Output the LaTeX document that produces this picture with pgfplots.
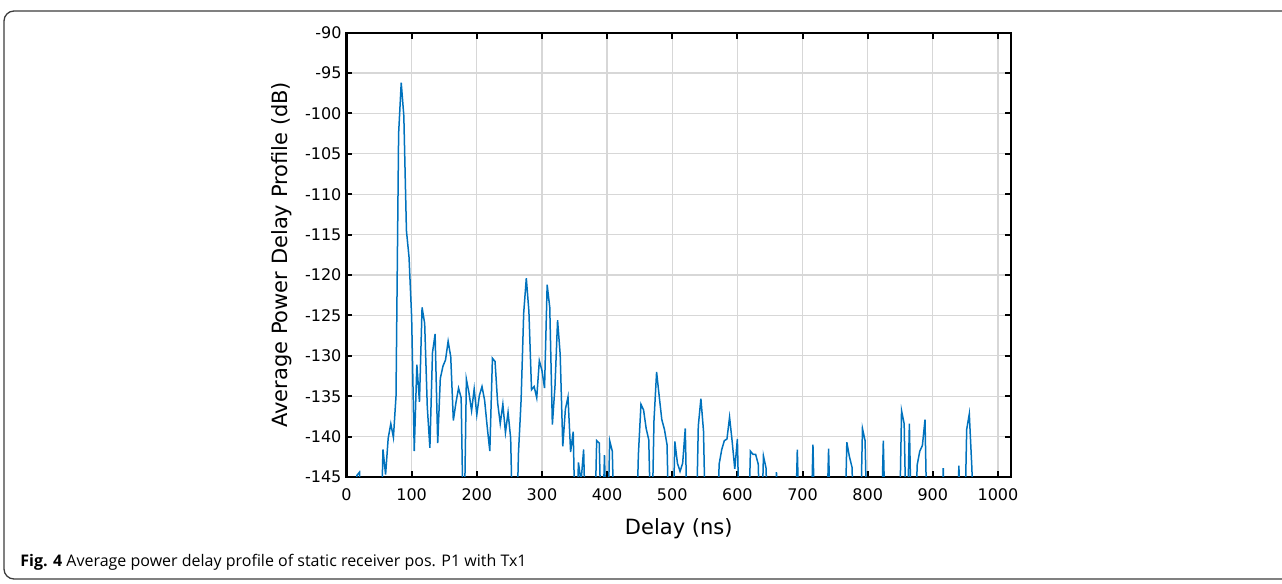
\documentclass[border=0pt]{standalone}
\usepackage{fontspec}
\setmainfont{DejaVu Sans}
\newfontfamily\capfont{Open Sans}
\usepackage{pgfplots}
\usepackage{pgfplotstable}
\pgfplotsset{compat=1.18}
\definecolor{mblue}{RGB}{0,114,189}
\definecolor{gridc}{RGB}{215,215,215}
\definecolor{framec}{RGB}{60,60,60}
\pgfplotstableread{
x y
0 -155
4 -155
8 -155
12 -155
16 -144.8
20 -144.4
24 -155
28 -155
32 -155
36 -155
40 -155
44 -155
48 -155
52 -155
56 -141.6
60 -144.7
64 -140.2
68 -138.4
72 -140.1
76 -135.0
80 -102.5
84 -96.2
88 -100.3
92 -114.5
96 -117.8
100 -125.2
104 -141.8
108 -131.1
112 -135.7
116 -124.0
120 -126.0
124 -136.3
128 -141.4
132 -129.6
136 -127.3
140 -140.8
144 -132.8
148 -131.3
152 -130.5
156 -128.2
160 -130.1
164 -138.0
168 -135.8
172 -134.0
176 -135.2
180 -155
184 -132.9
188 -134.6
192 -136.8
196 -134.1
200 -137.3
204 -134.9
208 -133.8
212 -135.5
216 -138.8
220 -141.8
224 -130.3
228 -130.7
232 -135.8
236 -138.4
240 -136.0
244 -139.5
248 -137.0
252 -140.2
256 -155
260 -155
264 -142.0
268 -135.5
272 -124.7
276 -120.4
280 -124.5
284 -134.2
288 -133.8
292 -135.2
296 -130.6
300 -131.8
304 -134.0
308 -121.2
312 -124.0
316 -138.5
320 -133.8
324 -125.6
328 -129.8
332 -141.2
336 -136.6
340 -135.1
344 -141.9
348 -139.4
352 -155
356 -143.2
360 -145.6
364 -141.6
368 -155
372 -155
376 -155
380 -155
384 -140.5
388 -140.8
392 -155
396 -142.3
400 -155
404 -140.5
408 -141.8
412 -155
416 -155
420 -155
424 -155
428 -155
432 -155
436 -155
440 -155
444 -155
448 -142.3
452 -136.0
456 -136.7
460 -139.0
464 -140.4
468 -155
472 -138.0
476 -132.0
480 -135.0
484 -137.9
488 -139.1
492 -141.0
496 -155
500 -155
504 -140.6
508 -143.3
512 -144.3
516 -143.3
520 -139.0
524 -155
528 -155
532 -155
536 -155
540 -138.7
544 -135.3
548 -139.3
552 -155
556 -155
560 -155
564 -155
568 -155
572 -143.4
576 -141.6
580 -140.5
584 -140.3
588 -137.6
592 -140.6
596 -144.0
600 -140.3
604 -155
608 -155
612 -155
616 -155
620 -141.8
624 -142.2
628 -142.2
632 -143.4
636 -155
640 -142.4
644 -143.9
648 -155
652 -155
656 -155
660 -144.4
664 -155
668 -155
672 -155
676 -155
680 -155
684 -155
688 -155
692 -141.6
696 -155
700 -155
704 -155
708 -155
712 -155
716 -141.0
720 -155
724 -155
728 -155
732 -155
736 -155
740 -141.5
744 -155
748 -155
752 -155
756 -155
760 -155
764 -155
768 -140.7
772 -142.5
776 -143.8
780 -155
784 -155
788 -155
792 -139.0
796 -140.5
800 -155
804 -155
808 -155
812 -155
816 -155
820 -155
824 -140.5
828 -155
832 -155
836 -155
840 -155
844 -155
848 -155
852 -136.8
856 -138.4
860 -155
864 -138.4
868 -155
872 -155
876 -143.5
880 -141.8
884 -141.1
888 -137.9
892 -155
896 -155
900 -155
904 -155
908 -155
912 -155
916 -143.9
920 -155
924 -155
928 -155
932 -155
936 -155
940 -143.6
944 -155
948 -155
952 -139.1
956 -137.2
960 -144.0
964 -155
968 -155
972 -155
976 -155
980 -155
984 -155
988 -155
992 -155
996 -155
1000 -155
1004 -155
1008 -155
1012 -155
1016 -155
1020 -155
}\pdp
\begin{document}
\begin{tikzpicture}
\useasboundingbox (0,0) rectangle (641pt,292pt);
\draw[framec, line width=0.65pt, rounded corners=5pt] (2pt,2.5pt) rectangle (700pt,286.5pt);
\begin{axis}[
  at={(173.25pt,53.5pt)}, anchor=south west,
  scale only axis, width=332.25pt, height=222.15pt,
  xmin=0, xmax=1020, ymin=-145, ymax=-90,
  xtick={0,100,...,1000}, ytick={-145,-140,...,-90},
  scaled ticks=false,
  /pgf/number format/1000 sep={},
  /pgf/number format/assume math mode=true,
  grid=major, major grid style={gridc, line width=0.6pt},
  axis line style={black, line width=1.1pt},
  tick style={black, line width=1pt},
  major tick length=3pt,
  tick align=inside,
  ticklabel style={font=\fontsize{8pt}{9.5pt}\selectfont},
  xticklabel style={yshift=-2.5pt},
  yticklabel style={xshift=1pt},
  xlabel={Delay (ns)}, ylabel={Average Power Delay Profile (dB)},
  label style={font=\fontsize{10.5pt}{12pt}\selectfont},
  xlabel style={yshift=-2pt},
  clip=true,
]
\addplot[mblue, line width=0.75pt, no markers] table[x=x,y=y] {\pdp};
\end{axis}
\node[anchor=base west, inner sep=0] at (10pt,8.75pt) {\capfont\fontsize{8pt}{9.5pt}\selectfont\textbf{Fig. 4} Average power delay profile of static receiver pos. P1 with Tx1};
\end{tikzpicture}
\end{document}
